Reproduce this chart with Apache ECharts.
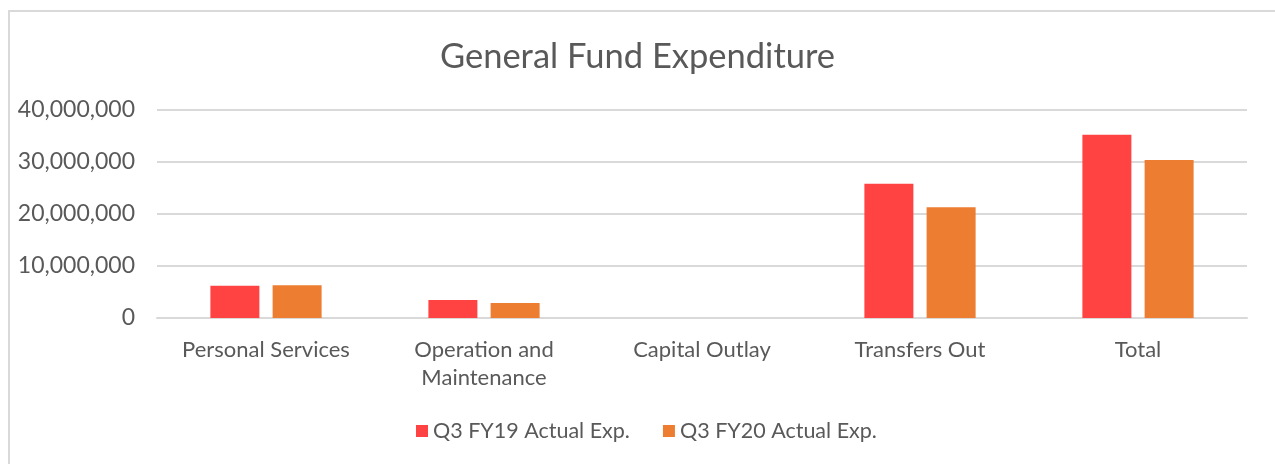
<!DOCTYPE html>
<html>
<head>
<meta charset="utf-8">
<script src="https://cdn.jsdelivr.net/npm/echarts@6/dist/echarts.min.js"></script>
<style>html,body{margin:0;padding:0;background:#fff}#c{width:1275px;height:464px}</style>
</head>
<body>
<div id="c"></div>
<script>
const categories = ['Personal Services', 'Operation and\nMaintenance', 'Capital Outlay', 'Transfers Out', 'Total'];
const fy19 = [6200000, 3450000, 0, 25800000, 35250000];
const fy20 = [6300000, 2900000, 0, 21300000, 30400000];
const seriesNames = ['Q3 FY19 Actual Exp.', 'Q3 FY20 Actual Exp.'];
const yTicks = { min: 0, max: 40000000, interval: 10000000 };

const font = 'Lato, "Open Sans", sans-serif';
const chart = echarts.init(document.getElementById('c'), null, { renderer: 'canvas' });
chart.setOption({
  animation: false,
  backgroundColor: '#ffffff',
  textStyle: { fontFamily: font },
  graphic: [{
    type: 'rect', silent: true, z: -1,
    shape: { x: 9, y: 11, width: 1300, height: 500 },
    style: { fill: 'none', stroke: '#d9d9d9', lineWidth: 2 }
  }],
  title: {
    text: 'General Fund Expenditure',
    left: 'center', top: 34,
    textStyle: { fontFamily: font, fontSize: 34.5, fontWeight: 'normal', color: '#595959' }
  },
  legend: {
    bottom: 17, left: 411,
    itemWidth: 12, itemHeight: 12, itemGap: 33,
    icon: 'rect',
    textStyle: { fontFamily: font, fontSize: 21.5, color: '#595959' },
    data: seriesNames
  },
  grid: { left: 157, right: 28, top: 110, bottom: 146, containLabel: false },
  xAxis: {
    type: 'category',
    data: categories,
    axisLine: { lineStyle: { color: '#d9d9d9', width: 2 } },
    axisTick: { show: false },
    axisLabel: { fontFamily: font, fontSize: 22, color: '#595959', margin: 18, lineHeight: 28, interval: 0 }
  },
  yAxis: {
    type: 'value',
    min: yTicks.min, max: yTicks.max, interval: yTicks.interval,
    axisLine: { show: false },
    axisTick: { show: false },
    splitLine: { lineStyle: { color: '#d9d9d9', width: 2 } },
    axisLabel: {
      fontFamily: font, fontSize: 23, color: '#595959', margin: 22,
      formatter: v => v.toLocaleString('en-US')
    }
  },
  series: [
    { name: seriesNames[0], type: 'bar', data: fy19, barWidth: 49, barGap: '27%', itemStyle: { color: '#ff4343' } },
    { name: seriesNames[1], type: 'bar', data: fy20, barWidth: 49, itemStyle: { color: '#ed7d31' } }
  ]
});
</script>
</body>
</html>
